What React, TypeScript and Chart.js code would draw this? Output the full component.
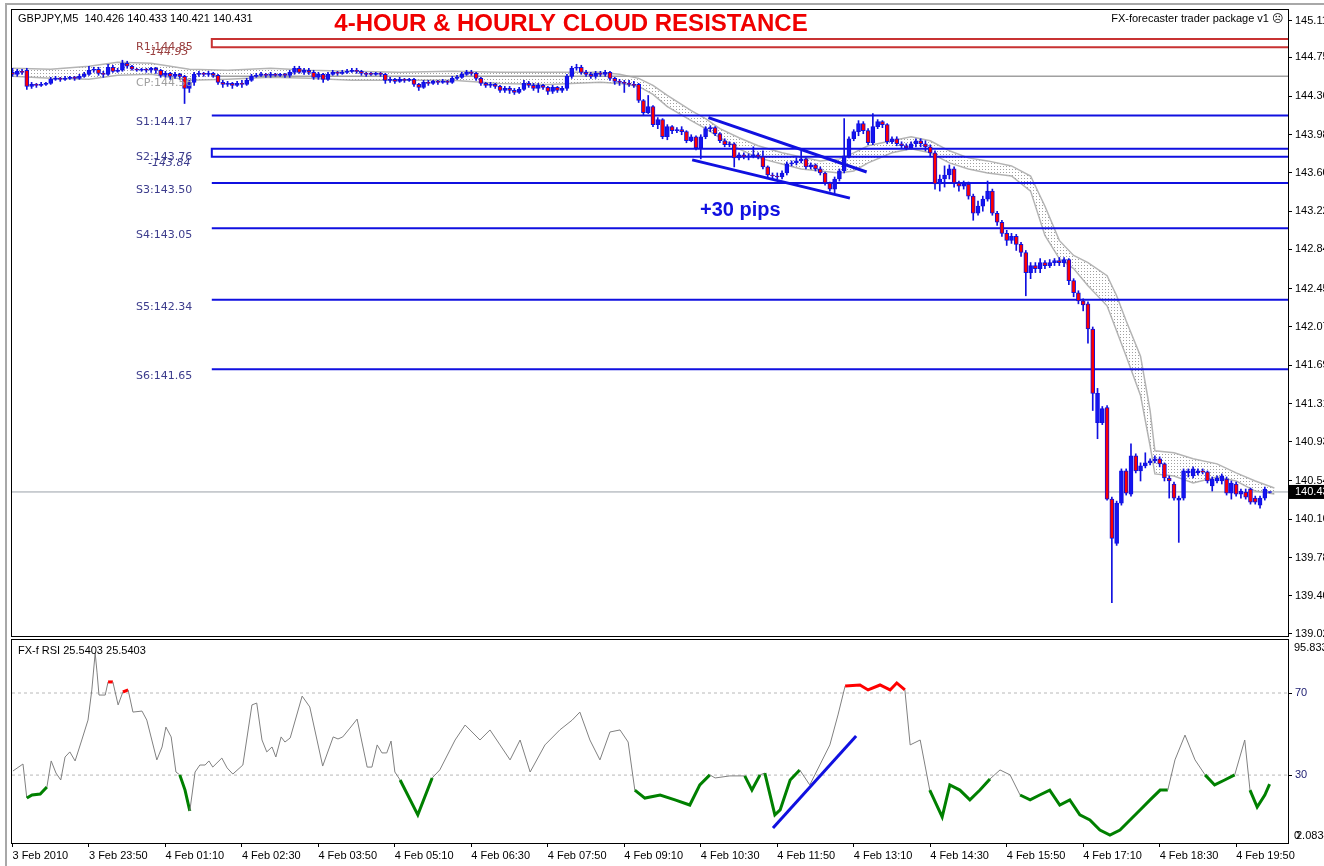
import React, { useEffect, useRef } from "react";
import { Chart, registerables } from "chart.js";
Chart.register(...registerables);

// ---------------- data ----------------
const tickBars = [0, 16, 32, 48, 64, 80, 96, 112, 128, 144, 160, 176, 192, 208, 224, 240, 256];
const tickLabels = ["3 Feb 2010", "3 Feb 23:50", "4 Feb 01:10", "4 Feb 02:30", "4 Feb 03:50", "4 Feb 05:10", "4 Feb 06:30", "4 Feb 07:50", "4 Feb 09:10", "4 Feb 10:30", "4 Feb 11:50", "4 Feb 13:10", "4 Feb 14:30", "4 Feb 15:50", "4 Feb 17:10", "4 Feb 18:30", "4 Feb 19:50"];
const priceTicks = [145.11, 144.75, 144.36, 143.98, 143.60, 143.22, 142.84, 142.45, 142.07, 141.69, 141.31, 140.93, 140.54, 140.16, 139.78, 139.40, 139.02];

const opens = [
  144.60, 144.58, 144.61, 144.62, 144.46, 144.48, 144.47, 144.48, 144.49, 144.53,
  144.54, 144.53, 144.54, 144.55, 144.54, 144.56, 144.58, 144.62, 144.63, 144.59,
  144.58, 144.65, 144.61, 144.62, 144.69, 144.66, 144.63, 144.62, 144.63, 144.62,
  144.64, 144.62, 144.57, 144.59, 144.56, 144.58, 144.56, 144.44, 144.50, 144.58,
  144.59, 144.58, 144.59, 144.57, 144.50, 144.48, 144.49, 144.47, 144.49, 144.48,
  144.52, 144.56, 144.57, 144.58, 144.57, 144.58, 144.57, 144.58, 144.57, 144.60,
  144.64, 144.60, 144.62, 144.60, 144.55, 144.58, 144.53, 144.58, 144.60, 144.59,
  144.60, 144.61, 144.62, 144.61, 144.59, 144.59, 144.58, 144.59, 144.58, 144.52,
  144.53, 144.51, 144.53, 144.52, 144.53, 144.48, 144.45, 144.50, 144.49, 144.51,
  144.50, 144.51, 144.50, 144.54, 144.55, 144.58, 144.60, 144.59, 144.54, 144.49,
  144.47, 144.48, 144.46, 144.42, 144.44, 144.42, 144.40, 144.43, 144.49, 144.47,
  144.44, 144.47, 144.45, 144.41, 144.45, 144.42, 144.44, 144.56, 144.64, 144.65,
  144.60, 144.58, 144.56, 144.59, 144.58, 144.60, 144.54, 144.51, 144.50, 144.49,
  144.48, 144.48, 144.32, 144.20, 144.26, 144.08, 144.13, 143.96, 144.06, 144.02,
  144.03, 144.01, 143.92, 143.96, 143.85, 143.96, 144.04, 144.05, 143.99, 143.92,
  143.88, 143.89, 143.75, 143.78, 143.76, 143.77, 143.78, 143.76, 143.66, 143.58,
  143.57, 143.56, 143.60, 143.69, 143.70, 143.72, 143.74, 143.66, 143.68, 143.64,
  143.60, 143.50, 143.44, 143.54, 143.62, 143.77, 143.94, 144.01, 144.09, 144.02,
  143.90, 144.06, 144.11, 144.08, 143.91, 143.94, 143.89, 143.87, 143.85, 143.89,
  143.92, 143.89, 143.86, 143.80, 143.49, 143.54, 143.58, 143.64, 143.50, 143.47,
  143.49, 143.37, 143.20, 143.27, 143.34, 143.42, 143.20, 143.11, 143.00, 142.93,
  142.97, 142.89, 142.81, 142.61, 142.68, 142.65, 142.71, 142.68, 142.71, 142.73,
  142.71, 142.74, 142.53, 142.41, 142.33, 142.30, 142.05, 141.12, 141.12, 141.27,
  140.36, 139.92, 140.32, 140.64, 140.41, 140.79, 140.64, 140.69, 140.72, 140.74,
  140.76, 140.71, 140.57, 140.51, 140.35, 140.37, 140.62, 140.59, 140.62, 140.64,
  140.63, 140.49, 140.54, 140.54, 140.56, 140.42, 140.51, 140.41, 140.43, 140.46,
  140.37, 140.30, 140.37, 140.426,
];
const highs = [
  144.64, 144.63, 144.63, 144.64, 144.50, 144.49, 144.50, 144.50, 144.55, 144.56,
  144.55, 144.56, 144.56, 144.56, 144.58, 144.60, 144.66, 144.65, 144.65, 144.61,
  144.68, 144.67, 144.64, 144.72, 144.71, 144.67, 144.64, 144.64, 144.64, 144.65,
  144.65, 144.63, 144.61, 144.60, 144.60, 144.59, 144.57, 144.52, 144.60, 144.61,
  144.60, 144.61, 144.60, 144.58, 144.52, 144.51, 144.50, 144.51, 144.52, 144.54,
  144.58, 144.59, 144.60, 144.59, 144.60, 144.59, 144.59, 144.59, 144.62, 144.66,
  144.66, 144.64, 144.64, 144.62, 144.60, 144.59, 144.60, 144.62, 144.61, 144.62,
  144.63, 144.64, 144.64, 144.62, 144.60, 144.60, 144.60, 144.60, 144.59, 144.55,
  144.54, 144.55, 144.54, 144.54, 144.54, 144.49, 144.52, 144.52, 144.52, 144.52,
  144.53, 144.52, 144.56, 144.57, 144.60, 144.62, 144.62, 144.60, 144.55, 144.50,
  144.50, 144.49, 144.47, 144.46, 144.46, 144.44, 144.45, 144.52, 144.51, 144.49,
  144.49, 144.48, 144.46, 144.47, 144.46, 144.46, 144.58, 144.66, 144.68, 144.67,
  144.62, 144.60, 144.61, 144.61, 144.62, 144.61, 144.55, 144.53, 144.52, 144.52,
  144.51, 144.49, 144.33, 144.37, 144.27, 144.15, 144.14, 144.08, 144.07, 144.05,
  144.06, 144.02, 143.98, 143.97, 143.98, 144.06, 144.07, 144.06, 144.00, 143.94,
  143.91, 143.90, 143.80, 143.80, 143.79, 143.86, 143.80, 143.82, 143.67, 143.60,
  143.60, 143.62, 143.71, 143.72, 143.75, 143.82, 143.75, 143.70, 143.69, 143.66,
  143.61, 143.51, 143.56, 143.64, 144.14, 143.96, 144.03, 144.12, 144.11, 144.04,
  144.19, 144.13, 144.12, 144.09, 143.96, 143.96, 143.91, 143.89, 143.91, 143.94,
  143.94, 143.92, 143.88, 143.82, 143.58, 143.67, 143.68, 143.66, 143.52, 143.52,
  143.51, 143.39, 143.32, 143.37, 143.52, 143.44, 143.22, 143.13, 143.03, 143.00,
  142.99, 142.91, 142.83, 142.71, 142.71, 142.75, 142.73, 142.74, 142.75, 142.76,
  142.76, 142.75, 142.55, 142.43, 142.35, 142.32, 142.07, 141.46, 141.28, 141.29,
  140.38, 140.34, 140.66, 140.66, 140.91, 140.81, 140.72, 140.82, 140.76, 140.79,
  140.78, 140.72, 140.59, 140.53, 140.39, 140.66, 140.66, 140.68, 140.66, 140.66,
  140.64, 140.58, 140.59, 140.61, 140.58, 140.54, 140.53, 140.46, 140.46, 140.47,
  140.39, 140.39, 140.48, 140.433,
];
const lows = [
  144.56, 144.56, 144.58, 144.43, 144.44, 144.45, 144.46, 144.47, 144.48, 144.52,
  144.51, 144.52, 144.53, 144.52, 144.53, 144.55, 144.57, 144.60, 144.57, 144.55,
  144.57, 144.60, 144.60, 144.61, 144.64, 144.62, 144.61, 144.61, 144.60, 144.60,
  144.59, 144.55, 144.55, 144.53, 144.54, 144.53, 144.29, 144.40, 144.47, 144.56,
  144.56, 144.56, 144.55, 144.48, 144.45, 144.46, 144.44, 144.46, 144.45, 144.47,
  144.51, 144.55, 144.56, 144.55, 144.55, 144.56, 144.56, 144.55, 144.55, 144.58,
  144.59, 144.58, 144.58, 144.53, 144.53, 144.50, 144.52, 144.57, 144.57, 144.58,
  144.59, 144.60, 144.59, 144.57, 144.56, 144.57, 144.57, 144.56, 144.49, 144.50,
  144.49, 144.50, 144.50, 144.51, 144.46, 144.42, 144.44, 144.47, 144.48, 144.48,
  144.49, 144.48, 144.49, 144.53, 144.54, 144.57, 144.57, 144.52, 144.47, 144.45,
  144.45, 144.44, 144.40, 144.40, 144.39, 144.38, 144.39, 144.42, 144.45, 144.42,
  144.40, 144.43, 144.38, 144.39, 144.40, 144.40, 144.42, 144.54, 144.62, 144.58,
  144.56, 144.54, 144.54, 144.56, 144.56, 144.52, 144.48, 144.47, 144.40, 144.46,
  144.45, 144.30, 144.18, 144.19, 144.06, 144.04, 143.94, 143.93, 143.99, 144.00,
  143.98, 143.90, 143.91, 143.83, 143.74, 143.94, 144.01, 143.97, 143.90, 143.86,
  143.86, 143.66, 143.73, 143.74, 143.73, 143.75, 143.74, 143.64, 143.56, 143.54,
  143.54, 143.54, 143.58, 143.67, 143.68, 143.70, 143.64, 143.64, 143.62, 143.58,
  143.48, 143.42, 143.40, 143.52, 143.60, 143.75, 143.92, 143.97, 143.99, 143.88,
  143.88, 144.04, 144.05, 143.89, 143.89, 143.87, 143.85, 143.83, 143.84, 143.86,
  143.86, 143.82, 143.76, 143.44, 143.42, 143.46, 143.54, 143.46, 143.42, 143.44,
  143.34, 143.13, 143.18, 143.22, 143.32, 143.18, 143.08, 142.97, 142.88, 142.90,
  142.83, 142.77, 142.38, 142.55, 142.61, 142.61, 142.65, 142.66, 142.68, 142.68,
  142.67, 142.49, 142.37, 142.30, 142.23, 141.91, 141.24, 140.96, 141.10, 140.35,
  139.33, 139.90, 140.30, 140.40, 140.39, 140.62, 140.54, 140.67, 140.70, 140.72,
  140.68, 140.54, 140.37, 140.35, 139.93, 140.35, 140.58, 140.57, 140.60, 140.61,
  140.52, 140.44, 140.52, 140.51, 140.40, 140.36, 140.39, 140.37, 140.36, 140.31,
  140.31, 140.27, 140.35, 140.421,
];
const closes = [
  144.58, 144.61, 144.60, 144.46, 144.48, 144.47, 144.48, 144.49, 144.53, 144.54,
  144.53, 144.54, 144.55, 144.54, 144.56, 144.58, 144.62, 144.63, 144.59, 144.58,
  144.65, 144.61, 144.62, 144.69, 144.66, 144.63, 144.62, 144.63, 144.62, 144.64,
  144.62, 144.57, 144.59, 144.56, 144.58, 144.56, 144.44, 144.50, 144.58, 144.59,
  144.58, 144.59, 144.57, 144.50, 144.48, 144.49, 144.47, 144.49, 144.48, 144.52,
  144.56, 144.57, 144.58, 144.57, 144.58, 144.57, 144.58, 144.57, 144.60, 144.64,
  144.60, 144.62, 144.60, 144.55, 144.58, 144.53, 144.58, 144.60, 144.59, 144.60,
  144.61, 144.62, 144.61, 144.59, 144.58, 144.58, 144.59, 144.58, 144.52, 144.53,
  144.51, 144.53, 144.52, 144.53, 144.48, 144.45, 144.50, 144.49, 144.51, 144.50,
  144.51, 144.50, 144.54, 144.55, 144.58, 144.60, 144.59, 144.54, 144.49, 144.47,
  144.48, 144.46, 144.42, 144.44, 144.42, 144.40, 144.43, 144.49, 144.47, 144.44,
  144.47, 144.45, 144.41, 144.45, 144.42, 144.44, 144.56, 144.64, 144.65, 144.60,
  144.58, 144.56, 144.59, 144.58, 144.60, 144.54, 144.51, 144.50, 144.49, 144.48,
  144.47, 144.32, 144.20, 144.26, 144.08, 144.13, 143.96, 144.06, 144.02, 144.03,
  144.01, 143.92, 143.96, 143.85, 143.96, 144.04, 144.05, 143.99, 143.92, 143.88,
  143.89, 143.75, 143.78, 143.76, 143.77, 143.78, 143.76, 143.66, 143.58, 143.57,
  143.56, 143.60, 143.69, 143.70, 143.72, 143.74, 143.66, 143.68, 143.64, 143.60,
  143.50, 143.44, 143.54, 143.62, 143.77, 143.94, 144.01, 144.09, 144.02, 143.90,
  144.06, 144.11, 144.08, 143.91, 143.94, 143.89, 143.87, 143.85, 143.89, 143.92,
  143.89, 143.86, 143.80, 143.49, 143.54, 143.58, 143.64, 143.50, 143.47, 143.49,
  143.37, 143.20, 143.27, 143.34, 143.42, 143.20, 143.11, 143.00, 142.93, 142.97,
  142.89, 142.81, 142.61, 142.68, 142.65, 142.71, 142.68, 142.71, 142.73, 142.71,
  142.74, 142.53, 142.41, 142.33, 142.29, 142.05, 141.41, 141.41, 141.26, 140.36,
  139.97, 140.32, 140.64, 140.42, 140.79, 140.64, 140.69, 140.72, 140.74, 140.76,
  140.71, 140.57, 140.54, 140.37, 140.37, 140.64, 140.64, 140.66, 140.64, 140.63,
  140.54, 140.56, 140.57, 140.59, 140.42, 140.52, 140.41, 140.44, 140.38, 140.33,
  140.33, 140.37, 140.46, 140.431,
];

// cloud band (bar index, upper, lower)
const cloudBars = [0, 8, 16, 22, 29, 37, 45, 54, 62, 71, 81, 92, 102, 112, 123, 127, 131, 134, 137, 142, 145, 148, 152, 156, 161, 165, 169, 173, 176, 179, 184, 188, 192, 196, 200, 204, 209, 213, 216, 219, 222, 225, 229, 231, 233, 236, 238, 239, 243, 247, 252, 256, 260, 264];
const cloudUpper = [144.64, 144.63, 144.66, 144.70, 144.69, 144.63, 144.62, 144.64, 144.62, 144.61, 144.60, 144.61, 144.60, 144.60, 144.60, 144.58, 144.54, 144.47, 144.37, 144.22, 144.14, 144.04, 143.95, 143.87, 143.80, 143.76, 143.72, 143.74, 143.80, 143.87, 143.92, 143.96, 143.92, 143.82, 143.75, 143.72, 143.67, 143.57, 143.27, 142.93, 142.78, 142.71, 142.58, 142.38, 142.13, 141.78, 141.24, 140.84, 140.82, 140.76, 140.71, 140.62, 140.54, 140.47];
const cloudLower = [144.56, 144.54, 144.53, 144.57, 144.58, 144.52, 144.53, 144.55, 144.54, 144.52, 144.52, 144.52, 144.49, 144.48, 144.50, 144.49, 144.46, 144.38, 144.26, 144.12, 144.04, 143.95, 143.84, 143.75, 143.69, 143.64, 143.62, 143.60, 143.62, 143.70, 143.80, 143.84, 143.80, 143.70, 143.64, 143.60, 143.57, 143.42, 142.98, 142.75, 142.65, 142.48, 142.28, 142.03, 141.78, 141.39, 140.89, 140.61, 140.59, 140.52, 140.58, 140.54, 140.44, 140.41];

// pivot levels
const supportNames = ["S1", "S3", "S4", "S5", "S6"];
const supportValues = [144.17, 143.50, 143.05, 142.34, 141.65];
const r1Box = [144.85, 144.93];
const s2Box = [143.76, 143.84];
const cpValue = 144.56;
const lastPrice = 140.431;

// hand-drawn trend lines [bar, value]
const wedgeUpper = [[145.6, 144.15], [178.7, 143.61]];
const wedgeLower = [[142.2, 143.73], [175.2, 143.35]];
const rsiTrend = [[159.1, 4.2], [176.5, 49.1]];

// RSI
const rsiBars = [0.1, 2.2, 3.0, 4.1, 5.8, 7.2, 8.1, 9.1, 10.1, 11.0, 12.0, 13.1, 14.5, 15.8, 16.6, 17.3, 17.7, 18.1, 19.4, 20.0, 21.0, 22.1, 23.1, 24.2, 25.2, 27.1, 28.1, 30.2, 31.3, 32.1, 33.2, 34.2, 35.0, 36.1, 37.1, 38.2, 39.2, 40.3, 41.1, 41.9, 43.8, 44.9, 46.1, 48.2, 50.1, 51.1, 52.2, 53.2, 54.3, 55.1, 56.2, 57.0, 58.1, 60.6, 62.2, 64.9, 67.1, 68.1, 69.1, 70.6, 72.1, 74.2, 75.2, 76.3, 77.3, 78.3, 79.2, 80.0, 81.1, 84.8, 87.8, 89.4, 92.6, 94.7, 97.8, 99.9, 102, 104.1, 106.2, 108.3, 111.4, 114.5, 117.1, 118.7, 120.8, 122.9, 125, 127.1, 128.8, 130.2, 132.3, 135.5, 138.6, 141.7, 143.8, 145.9, 147, 150.1, 153.2, 154.7, 156.4, 157.4, 159.5, 160.6, 162.7, 164.7, 166.8, 168.9, 171, 172.7, 174.2, 177.3, 179, 181.5, 183.6, 185, 186.7, 187.8, 189.9, 191.9, 194.5, 196.1, 198.2, 200.3, 202.4, 204.5, 206.6, 208.7, 210.8, 212.9, 214.9, 217, 219.1, 221.2, 223.3, 225.4, 227.5, 229.6, 231.7, 233.8, 235.9, 238, 240.1, 241.7, 243.2, 245.3, 247.4, 249.5, 251.5, 253.6, 255.7, 257.8, 258.9, 260.4, 262.0, 263];
const rsiValues = [32.0, 35.4, 18.8, 20.3, 20.8, 24.2, 36.9, 31.0, 27.6, 38.8, 41.3, 36.9, 47.1, 56.8, 71.5, 89.5, 79.8, 69.0, 69.0, 75.4, 75.4, 64.2, 70.5, 71.5, 60.7, 61.2, 56.8, 37.4, 43.7, 53.4, 48.6, 31.5, 30.1, 22.7, 12.5, 31.5, 34.9, 34.9, 36.9, 33.9, 38.3, 33.5, 30.5, 34.9, 64.2, 65.1, 47.1, 41.3, 43.7, 38.8, 48.6, 46.1, 48.1, 68.5, 63.2, 34.4, 48.6, 47.6, 48.6, 52.9, 57.3, 33.9, 33.9, 44.7, 40.8, 40.8, 46.6, 31.5, 27.6, 10.6, 28.6, 32.5, 47.1, 54.4, 47.1, 52.0, 44.7, 37.4, 47.1, 31.5, 44.7, 52.0, 56.8, 60.7, 47.1, 37.4, 51.0, 52.0, 46.1, 22.7, 18.8, 20.3, 17.9, 15.4, 25.2, 30.1, 28.6, 29.6, 29.6, 22.7, 30.1, 31.0, 10.6, 13.0, 27.6, 32.5, 25.2, 34.9, 44.7, 59.3, 73.4, 73.9, 71.5, 73.9, 71.5, 74.9, 71.5, 44.7, 47.1, 22.7, 9.6, 25.2, 22.7, 17.9, 22.7, 28.1, 32.5, 30.1, 20.3, 17.9, 20.3, 22.7, 15.4, 17.9, 10.6, 8.1, 3.2, 0.8, 3.2, 8.1, 13.0, 17.9, 22.7, 22.7, 37.4, 49.5, 37.4, 30.1, 25.2, 27.6, 30.1, 47.1, 22.7, 14.4, 20.3, 25.54];
const rsiGreenRanges = [[3.0, 7.2], [35.0, 37.1], [81.1, 87.8], [130.2, 145.9], [153.2, 156.4], [157.4, 164.7], [191.9, 204.5], [210.8, 241.7], [249.5, 255.7], [258.9, 263]];
const rsiRedRanges = [[20.0, 21.0], [23.1, 24.2], [174.2, 186.7]];
const rsiLevels = [70, 30];

// ---------------- layout / style constants ----------------
const X_MIN = -0.1;
const X_MAX = 266.85;
const LEVEL_START = 41.7;
const BLUE = "#1010e0";
const FONT = "Liberation Sans";

function dotPattern(): CanvasPattern | string {
  const c = document.createElement("canvas");
  c.width = 3;
  c.height = 3;
  const g = c.getContext("2d");
  if (!g) return "rgba(150,150,150,0.2)";
  g.fillStyle = "#a0a0a0";
  g.fillRect(1, 1, 1, 1);
  return g.createPattern(c, "repeat") || "rgba(150,150,150,0.2)";
}

function hLine(v: number, color: string, width: number, order: number, from = LEVEL_START) {
  return {
    type: "line" as const,
    data: [{ x: from, y: v }, { x: X_MAX, y: v }],
    borderColor: color,
    borderWidth: width,
    pointRadius: 0,
    fill: false,
    order,
  };
}

function boxLine(b: number[], color: string, order: number) {
  return {
    type: "line" as const,
    data: [{ x: X_MAX, y: b[1] }, { x: LEVEL_START, y: b[1] }, { x: LEVEL_START, y: b[0] }, { x: X_MAX, y: b[0] }],
    borderColor: color,
    borderWidth: 2,
    pointRadius: 0,
    fill: false,
    order,
  };
}

function segLine(pts: number[][], order: number) {
  return {
    type: "line" as const,
    data: pts.map((p) => ({ x: p[0], y: p[1] })),
    borderColor: BLUE,
    borderWidth: 3,
    pointRadius: 0,
    fill: false,
    order,
  };
}

const inRange = (ranges: number[][], a: number, b: number) =>
  ranges.some((r) => a >= r[0] - 0.01 && b <= r[1] + 0.01);

export default function App() {
  const mainRef = useRef<HTMLCanvasElement>(null);
  const rsiRef = useRef<HTMLCanvasElement>(null);

  useEffect(() => {
    const pattern = dotPattern();

    const mainText = {
      id: "mainText",
      afterDraw(chart: any) {
        const { ctx, chartArea: a } = chart;
        const y = chart.scales.y;
        ctx.save();
        // outer frame
        ctx.strokeStyle = "#a8a8a8";
        ctx.lineWidth = 2;
        ctx.beginPath();
        ctx.moveTo(6, 866);
        ctx.lineTo(6, 4);
        ctx.lineTo(1324, 4);
        ctx.stroke();
        ctx.strokeStyle = "#000";
        ctx.lineWidth = 1;
        ctx.strokeRect(a.left - 0.5, a.top - 0.5, a.right - a.left + 1, a.bottom - a.top + 1);

        ctx.textBaseline = "middle";
        ctx.textAlign = "left";
        ctx.fillStyle = "#000";
        ctx.font = `11px ${FONT}`;
        ctx.fillText("GBPJPY,M5  140.426 140.433 140.421 140.431", 18, 19);
        ctx.textAlign = "right";
        ctx.fillText("FX-forecaster trader package v1 \u2639", 1283, 19);

        ctx.textAlign = "center";
        ctx.fillStyle = "#f00000";
        ctx.font = `bold 24px ${FONT}`;
        ctx.fillText("4-HOUR & HOURLY CLOUD RESISTANCE", 571, 24);

        ctx.textAlign = "left";
        ctx.fillStyle = BLUE;
        ctx.font = `bold 20px ${FONT}`;
        ctx.fillText("+30 pips", 700, 210);

        // pivot labels
        ctx.font = `11px DejaVu Sans`;
        ctx.fillStyle = "#9a4040";
        ctx.fillText("R1:" + r1Box[0].toFixed(2), 136, 47);
        ctx.font = `italic 11px DejaVu Sans`;
        ctx.fillText("-" + r1Box[1].toFixed(2), 146, 52);
        ctx.font = `11px DejaVu Sans`;
        ctx.fillStyle = "#a0a0a0";
        ctx.fillText("CP:" + cpValue.toFixed(2), 136, 83);
        ctx.fillStyle = "#3c3c8c";
        supportNames.forEach((n, i) => {
          const py = y.getPixelForValue(supportValues[i]) + 7;
          ctx.fillText(n + ":" + supportValues[i].toFixed(2), 136, py);
        });
        ctx.fillText("S2:" + s2Box[0].toFixed(2), 136, 157);
        ctx.font = `italic 11px DejaVu Sans`;
        ctx.fillText("-" + s2Box[1].toFixed(2), 148, 163);

        // last price tag
        const py = y.getPixelForValue(lastPrice);
        ctx.fillStyle = "#000";
        ctx.fillRect(a.right + 1, py - 7, 40, 14);
        ctx.fillStyle = "#fff";
        ctx.font = `11px ${FONT}`;
        ctx.fillText(lastPrice.toFixed(3), 1295, py);
        ctx.restore();
      },
    };

    const main = new Chart(mainRef.current as HTMLCanvasElement, {
      type: "bar",
      data: {
        datasets: [
          {
            type: "bar",
            data: opens.map((o, i) => ({ x: i, y: [o, closes[i]] })) as any,
            backgroundColor: opens.map((o, i) => (closes[i] < o ? "#ff0000" : "#1414f0")),
            borderColor: "#1010e0",
            borderWidth: 1,
            borderSkipped: false,
            barThickness: 4,
            minBarLength: 1,
            grouped: false,
            order: 2,
          },
          {
            type: "bar",
            data: highs.map((h, i) => ({ x: i, y: [lows[i], h] })) as any,
            backgroundColor: "#1010e0",
            borderWidth: 0,
            barThickness: 1,
            grouped: false,
            order: 3,
          },
          {
            type: "line",
            data: cloudBars.map((b, i) => ({ x: b, y: cloudUpper[i] })),
            borderColor: "#b4b4b4",
            borderWidth: 1.5,
            pointRadius: 0,
            fill: "+1",
            backgroundColor: pattern as any,
            order: 10,
          },
          {
            type: "line",
            data: cloudBars.map((b, i) => ({ x: b, y: cloudLower[i] })),
            borderColor: "#b4b4b4",
            borderWidth: 1.5,
            pointRadius: 0,
            fill: false,
            order: 10,
          },
          ...supportValues.map((v) => hLine(v, BLUE, 2, 8)),
          boxLine(r1Box, "#c83232", 8),
          boxLine(s2Box, BLUE, 8),
          hLine(cpValue, "#a0a0a0", 1.5, 9),
          hLine(lastPrice, "#9aa0a8", 1, 9, X_MIN),
          segLine(wedgeUpper, 1),
          segLine(wedgeLower, 1),
        ] as any,
      },
      options: {
        animation: false,
        responsive: false,
        events: [],
        layout: { padding: { left: 12, top: 10, right: 0, bottom: 4 } },
        plugins: { legend: { display: false }, tooltip: { enabled: false } },
        scales: {
          x: { type: "linear", min: X_MIN, max: X_MAX, display: false, offset: false },
          y: {
            type: "linear",
            position: "right",
            min: 139.0,
            max: 145.219,
            afterBuildTicks: (s: any) => {
              s.ticks = priceTicks.map((v) => ({ value: v }));
            },
            afterFit: (s: any) => {
              s.width = 36;
              s.paddingTop = 0;
              s.paddingBottom = 0;
            },
            ticks: {
              callback: (v: any) => Number(v).toFixed(2),
              font: { family: FONT, size: 11 },
              color: "#000",
              padding: 3,
              autoSkip: false,
            },
            grid: { drawOnChartArea: false, drawTicks: true, tickLength: 4, color: "#000" },
            border: { display: true, color: "#000" },
          },
        },
      } as any,
      plugins: [mainText],
    });

    const rsiText = {
      id: "rsiText",
      afterDraw(chart: any) {
        const { ctx, chartArea: a } = chart;
        ctx.save();
        ctx.strokeStyle = "#a8a8a8";
        ctx.lineWidth = 2;
        ctx.beginPath();
        ctx.moveTo(6, 0);
        ctx.lineTo(6, 230);
        ctx.stroke();
        ctx.strokeStyle = "#000";
        ctx.lineWidth = 1;
        ctx.strokeRect(a.left - 0.5, a.top - 0.5, a.right - a.left + 1, a.bottom - a.top + 1);
        ctx.textBaseline = "middle";
        ctx.textAlign = "left";
        ctx.fillStyle = "#000";
        ctx.font = `11px ${FONT}`;
        ctx.fillText("FX-f RSI 25.5403 25.5403", 18, 15);
        ctx.fillText("95.833", 1294, 12);
        ctx.fillText("0", 1294, 200);
        ctx.fillText("2.0834", 1296, 200);
        ctx.restore();
      },
    };

    const rsi = new Chart(rsiRef.current as HTMLCanvasElement, {
      type: "line",
      data: {
        datasets: [
          {
            data: rsiBars.map((b, i) => ({ x: b, y: rsiValues[i] })),
            borderColor: "#808080",
            borderWidth: 1,
            pointRadius: 0,
            fill: false,
            segment: {
              borderColor: (c: any) =>
                inRange(rsiGreenRanges, c.p0.parsed.x, c.p1.parsed.x)
                  ? "#008000"
                  : inRange(rsiRedRanges, c.p0.parsed.x, c.p1.parsed.x)
                  ? "#ff0000"
                  : undefined,
              borderWidth: (c: any) =>
                inRange(rsiGreenRanges, c.p0.parsed.x, c.p1.parsed.x) ||
                inRange(rsiRedRanges, c.p0.parsed.x, c.p1.parsed.x)
                  ? 3
                  : undefined,
            },
            order: 2,
          },
          ...rsiLevels.map((v) => ({
            data: [{ x: X_MIN, y: v }, { x: X_MAX, y: v }],
            borderColor: "#b8b8b8",
            borderWidth: 1,
            borderDash: [3, 3],
            pointRadius: 0,
            fill: false,
            order: 5,
          })),
          segLine(rsiTrend, 1),
        ] as any,
      },
      options: {
        animation: false,
        responsive: false,
        events: [],
        layout: { padding: { left: 12, top: 4, right: 0, bottom: 3 } },
        plugins: { legend: { display: false }, tooltip: { enabled: false } },
        scales: {
          x: {
            type: "linear",
            min: X_MIN,
            max: X_MAX,
            offset: false,
            afterBuildTicks: (s: any) => {
              s.ticks = tickBars.map((v) => ({ value: v }));
            },
            afterFit: (s: any) => {
              s.height = 20;
              s.paddingLeft = 0;
              s.paddingRight = 0;
            },
            ticks: {
              callback: (_v: any, i: number) => tickLabels[i],
              align: "start",
              autoSkip: false,
              maxRotation: 0,
              minRotation: 0,
              font: { family: FONT, size: 11 },
              color: "#000",
              padding: 2,
            },
            grid: { drawOnChartArea: false, drawTicks: true, tickLength: 4, color: "#000" },
            border: { display: true, color: "#000" },
          },
          y: {
            type: "linear",
            position: "right",
            min: -3.1,
            max: 95.833,
            afterBuildTicks: (s: any) => {
              s.ticks = rsiLevels.map((v) => ({ value: v }));
            },
            afterFit: (s: any) => {
              s.width = 36;
              s.paddingTop = 0;
              s.paddingBottom = 0;
            },
            ticks: {
              callback: (v: any) => String(v),
              font: { family: FONT, size: 11 },
              color: "#1a1a6e",
              padding: 3,
              autoSkip: false,
            },
            grid: { drawOnChartArea: false, drawTicks: true, tickLength: 4, color: "#000" },
            border: { display: true, color: "#000" },
          },
        },
      } as any,
      plugins: [rsiText],
    });

    return () => {
      main.destroy();
      rsi.destroy();
    };
  }, []);

  return (
    <div style={{ position: "absolute", left: 0, top: 0, width: 1324, height: 866, background: "#fff", overflow: "hidden" }}>
      <canvas ref={mainRef} width={1324} height={640} style={{ position: "absolute", left: 0, top: 0 }} />
      <canvas ref={rsiRef} width={1324} height={230} style={{ position: "absolute", left: 0, top: 636 }} />
    </div>
  );
}
